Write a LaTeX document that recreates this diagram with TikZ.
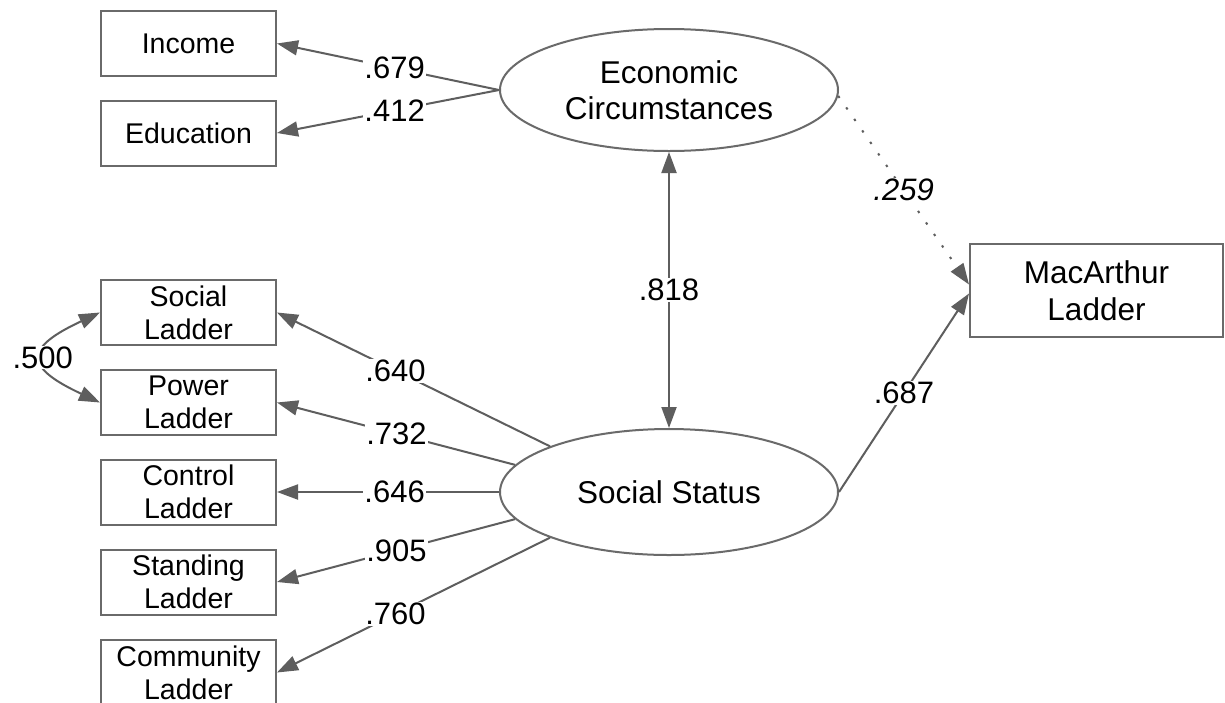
\documentclass[tikz,border=0pt]{standalone}
\usepackage{fontspec}
\setmainfont{Liberation Sans}
\usetikzlibrary{arrows.meta,shapes.geometric}
\definecolor{edgegray}{HTML}{5E5E5E}
\definecolor{framegray}{HTML}{6A6A6A}
\tikzset{
  obs/.style={draw=framegray, line width=2pt, rectangle, minimum width=175pt, minimum height=65pt,
    inner sep=0pt, align=center, font=\fontsize{28.5}{33}\selectfont},
  latent/.style={draw=framegray, line width=2pt, ellipse, minimum width=338pt, inner sep=0pt,
    align=center, font=\fontsize{31.5}{36}\selectfont},
  outcome/.style={draw=framegray, line width=2pt, rectangle, minimum width=253pt, minimum height=93pt,
    inner sep=0pt, align=center, font=\fontsize{31.5}{37}\selectfont},
  path/.style={draw=edgegray, line width=2pt, -{Triangle[length=21pt,width=15pt]}},
  twoway/.style={draw=edgegray, line width=2pt, {Triangle[length=21pt,width=15pt]}-{Triangle[length=21pt,width=15pt]}},
  coef/.style={fill=white, inner sep=1pt, text=black, font=\fontsize{31}{36}\selectfont},
}
\begin{document}
\begin{tikzpicture}[x=1pt, y=-1pt]
  \clip (0,0) rectangle (1225,702);
  \fill[white] (0,0) rectangle (1225,702);

  % indicators
  \node[obs] (inc) at (188.5,43.5) {Income};
  \node[obs] (edu) at (188.5,133) {Education};
  \node[obs] (sl)  at (188.5,312.5) {Social\\Ladder};
  \node[obs] (pl)  at (188.5,402.5) {Power\\Ladder};
  \node[obs] (cl)  at (188.5,492) {Control\\Ladder};
  \node[obs] (stl) at (188.5,582) {Standing\\Ladder};
  \node[obs] (cml) at (188.5,672.5) {Community\\Ladder};

  % latent factors
  \node[latent, minimum height=122pt] (ec) at (669,90) {Economic\\Circumstances};
  \node[latent, minimum height=126pt] (ss) at (669,492) {Social Status};

  % outcome
  \node[outcome] (mac) at (1096.5,290.5) {MacArthur\\Ladder};

  % loadings of economic circumstances
  \draw[path] (ec.west) -- node[coef, pos=0.47] {.679} (inc.east);
  \draw[path] (ec.west) -- node[coef, pos=0.47] {.412} (edu.east);

  % loadings of social status
  \draw[path] (ss.159) -- node[coef, pos=0.566] {.640} (sl.east);
  \draw[path] (ss.170) -- node[coef, pos=0.498] {.732} (pl.east);
  \draw[path] (ss.west) -- node[coef, pos=0.47] {.646} (cl.east);
  \draw[path] (ss.190) -- node[coef, pos=0.498] {.905} (stl.east);
  \draw[path] (ss.201) -- node[coef, pos=0.566] {.760} (cml.east);

  % correlations
  \draw[twoway] (ec.south) -- node[coef, pos=0.5] {.818} (ss.north);
  \draw[twoway] (sl.west) to[out=205, in=155, looseness=2.4] node[coef, pos=0.5] {.500} (pl.west);

  % structural paths
  \draw[path, dash pattern=on 2.4pt off 11.6pt] (ec.-2) -- node[coef, pos=0.5, font=\fontsize{31}{36}\selectfont\itshape] {.259} ([yshift=6pt]mac.west);
  \draw[path] (ss.east) -- node[coef, pos=0.5] {.687} ([yshift=-3pt]mac.west);
\end{tikzpicture}
\end{document}
